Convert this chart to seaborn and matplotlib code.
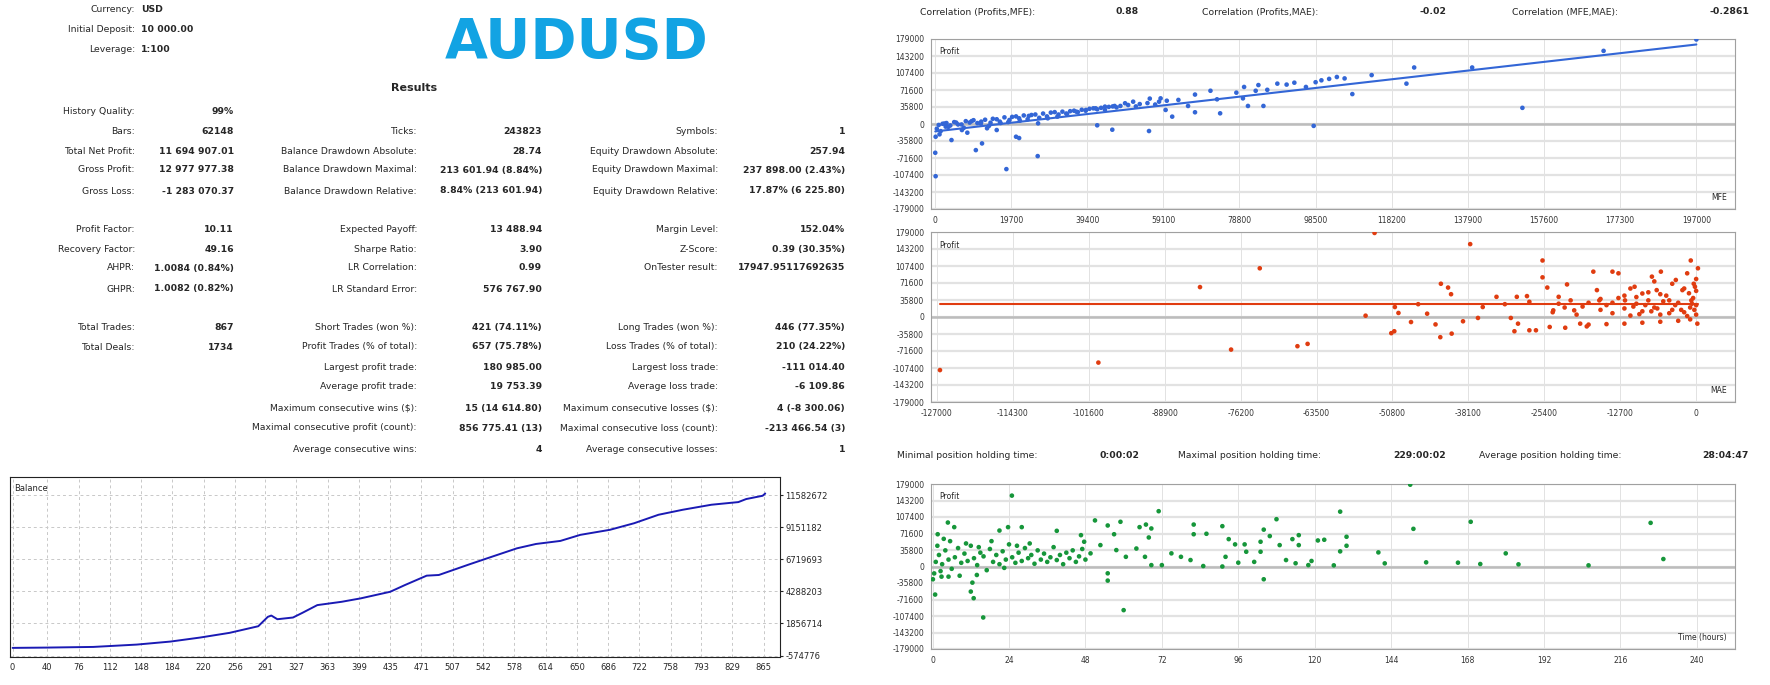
import numpy as np
import matplotlib
matplotlib.use("Agg")
import matplotlib.pyplot as plt
import seaborn as sns

# ---- report header / stats ----
header_rows = [("Currency:", "USD"), ("Initial Deposit:", "10 000.00"), ("Leverage:", "1:100")]

col1 = [("History Quality:", "99%", 111), ("Bars:", "62148", 131), ("Total Net Profit:", "11 694 907.01", 151),
        ("Gross Profit:", "12 977 977.38", 170), ("Gross Loss:", "-1 283 070.37", 191),
        ("Profit Factor:", "10.11", 230), ("Recovery Factor:", "49.16", 249),
        ("AHPR:", "1.0084 (0.84%)", 268), ("GHPR:", "1.0082 (0.82%)", 289),
        ("Total Trades:", "867", 327), ("Total Deals:", "1734", 347)]
col2 = [("Ticks:", "243823", 131), ("Balance Drawdown Absolute:", "28.74", 151),
        ("Balance Drawdown Maximal:", "213 601.94 (8.84%)", 170),
        ("Balance Drawdown Relative:", "8.84% (213 601.94)", 191),
        ("Expected Payoff:", "13 488.94", 230), ("Sharpe Ratio:", "3.90", 249),
        ("LR Correlation:", "0.99", 268), ("LR Standard Error:", "576 767.90", 289),
        ("Short Trades (won %):", "421 (74.11%)", 327), ("Profit Trades (% of total):", "657 (75.78%)", 347),
        ("Largest profit trade:", "180 985.00", 367), ("Average profit trade:", "19 753.39", 387),
        ("Maximum consecutive wins ($):", "15 (14 614.80)", 408),
        ("Maximal consecutive profit (count):", "856 775.41 (13)", 428),
        ("Average consecutive wins:", "4", 449)]
col3 = [("Symbols:", "1", 131), ("Equity Drawdown Absolute:", "257.94", 151),
        ("Equity Drawdown Maximal:", "237 898.00 (2.43%)", 170),
        ("Equity Drawdown Relative:", "17.87% (6 225.80)", 191),
        ("Margin Level:", "152.04%", 230), ("Z-Score:", "0.39 (30.35%)", 249),
        ("OnTester result:", "17947.95117692635", 268),
        ("Long Trades (won %):", "446 (77.35%)", 327), ("Loss Trades (% of total):", "210 (24.22%)", 347),
        ("Largest loss trade:", "-111 014.40", 367), ("Average loss trade:", "-6 109.86", 387),
        ("Maximum consecutive losses ($):", "4 (-8 300.06)", 408),
        ("Maximal consecutive loss (count):", "-213 466.54 (3)", 428),
        ("Average consecutive losses:", "1", 449)]
corr_row = [("Correlation (Profits,MFE):", "0.88"), ("Correlation (Profits,MAE):", "-0.02"),
            ("Correlation (MFE,MAE):", "-0.2861")]
hold_row = [("Minimal position holding time:", "0:00:02"), ("Maximal position holding time:", "229:00:02"),
            ("Average position holding time:", "28:04:47")]

# ---- balance curve (trade number, balance) ----
bal_trade = [0, 39, 93, 143, 182, 216, 250, 283, 294, 298, 305, 323, 334, 351, 379, 401, 435, 452, 477,
             491, 525, 547, 581, 603, 631, 654, 688, 716, 744, 772, 805, 836, 845, 864, 867]
bal_value = [10000, 33000, 83000, 260000, 490000, 793000, 1150000, 1650000, 2360000, 2460000, 2180000,
             2310000, 2670000, 3250000, 3500000, 3760000, 4260000, 4770000, 5480000, 5530000, 6310000,
             6800000, 7550000, 7880000, 8110000, 8570000, 8950000, 9450000, 10090000, 10470000, 10850000,
             11050000, 11280000, 11530000, 11700000]
bal_ticks = [0, 40, 76, 112, 148, 184, 220, 256, 291, 327, 363, 399, 435, 471, 507, 542, 578, 614, 650,
             686, 722, 758, 793, 829, 865]
bal_yticks = [-574776, 1856714, 4288203, 6719693, 9151182, 11582672]

# ---- MFE vs profit (thousands) ----
mfe_x = [197, 173, 139, 124, 113, 122, 108, 152, 98, 106, 104, 102, 100, 98.5, 96, 93, 91, 88.6, 86, 83.7,
         83, 80, 78, 79.7, 81, 85, 73.8, 73, 71.3, 67.3, 67.3, 65.5, 61.4, 59.7, 63, 58.4, 55.6, 55.4, 45.9,
         42, 51.3, 49.2, 46.5, 44, 41.6, 39.1, 36.6, 34.2, 31.7, 29.2, 26.7, 24.3, 21.8, 19.3, 16.8, 14.4,
         11.9, 6.9, 2, 21.8, 21, 12.2, 10.6, 8.4, 4.3, 1.2, 0.2, 0.1, 0.2, 18.5, 26.6, 16, 13.5, 7, 2.8,
         3, 5, 8, 10, 13, 15, 18, 20, 23, 25, 28, 30, 33, 35, 38, 40, 43, 45, 48, 50, 53, 55, 58, 60,
         4, 6, 9, 12, 14, 17, 19, 22, 24, 27, 29, 32, 34, 37, 39, 42, 44, 47, 52, 57,
         1, 2.5, 3.5, 5.5, 7.5, 9.5, 11, 16, 21, 26, 31, 36, 41, 46, 0.5, 1.5]
mfe_y = [178, 154, 119, 119, 103, 85, 63, 34, -4, 96, 99, 95, 92, 88, 78, 87, 83, 85, 72, 82,
         70, 78, 66, 54, 38, 38, 22.5, 52, 70, 62, 24.7, 38, 15.5, 29.6, 50.7, 54, 53.5, -14.8, -12,
         -2.8, 47, 43.7, 38, 36.6, 33, 29.6, 26, 21, 15.5, 12, 1.4, 17, 12, 8.5, 5, 2.8,
         1, -1, 0.5, -29.6, -26.8, -40.9, -55, -18.3, -33.8, -21.8, -26.8, -60.6, -110, -95, -67.6, -12.7, -9, -12.7, -5.6,
         2, 4, 6, 8, 9, 11, 14, 15, 18, 19, 22, 24, 26, 27, 30, 32, 34, 36, 38, 40, 42, 44, 47, 49,
         -3, -1, 3, 5, -4, 2, 4, 7, 10, 13, 16, 20, 22, 25, 28, 31, 30, 35, 37, 41,
         -2, 1, -6, 3, -8, 6, 2, 10, 16, 20, 25, 28, 33, 37, -10, -15]

# ---- MAE vs profit (thousands) ----
mae_x = [-53.8, -37.8, -73, -83, -25.7, -25.7, -0.9, 0.3, -126.5, -100, -77.8, -66.7, -65, -55.3, -51, -50.5,
         -50.4, -49.8, -47.7, -46.5, -45, -43.6, -42.8, -42.7, -41.5, -41, -40.9, -39, -36.5, -35.7, -33.4,
         -32, -31, -30.4, -30, -29.8, -28.3, -27.9, -27.9, -26.8, -24.9, -24.5, -23.9, -23, -21.9, -21.6,
         -20.4, -19.4, -18.3, -17.2, -16.6, -16.2, -14, -13, -11.9, -10.3, -9, -7.4, -6.6, -5.9, -4.5, -3.4,
         -2.3, -1.5, -0.7, -0.2, 0.2,
         -24, -22, -20, -18, -16, -15, -14, -13, -12, -11, -10, -9, -8, -7, -6, -5, -4, -3, -2, -1, -0.5,
         0, 0, 0, 0, -1, -3, -6, -9, -12, -15, -18, -2, -4, -6, -8, -10, -12, -14, -16, -19, -21, -23, -11, -7,
         -1.5, -2.5, -3.5, -4.5, -5.5, -6.5, -7.5, -8.5, -9.5, -10.5, -0.3, -0.8, -1.2, -0.4]
mae_y = [177, 153.5, 102.6, 63, 119, 83.5, 119, 102.6, -111.8, -96, -68.6, -61.5, -56.6, 2.8, -34, -30,
         21, 8.5, -10.6, 27, 7, -15.6, -42.5, 70, 62, 48, -35, -9, -2, 21, 42.5,
         27, -2, -30, 42.5, -14, 44, 32, -28, -28, 62, -21, 14, 42.5, -22.6, 68.6,
         14, -14, -19.8, 95.5, 56.6, 35, 95.5, 92, 35, 63.7, 49.5, 85, 56.6, 95.5, 35, 78,
         56.6, 92, 28, 63.7, -14,
         10, 20, 5, 30, 15, 25, 8, 40, 18, 3, 28, 12, 35, 20, 5, 45, 15, 30, 10, 20, 40,
         5, 55, 25, 80, -5, -8, -10, -12, -14, -15, -16, 60, 70, 48, 52, 42, 45, 30, 38, 22, 35, 28, 60, 75,
         2, 15, 25, 8, 33, 18, 12, 25, 6, 22, 15, 35, 50, 70]

# ---- holding time (hours) vs profit (thousands) ----
hold_h = [150, 24.9, 71, 128, 108, 169, 225.5, 151, 4.8, 6.8, 1.6, 23.7, 28, 21, 39, 51, 55, 59, 65, 67,
          68.7, 82, 82, 86, 91, 104, 105.9, 115, 115, 113, 121, 123, 130, 130, 128, 140, 142, 155, 165, 172,
          180, 184, 206, 229.5, 104, 60, 15.9, 0.8, 12.9, 12, 12.5, 13.9, 55, 55, 0.1, 2.8, 5,
          46.6, 47.6, 57, 67.9, 93, 95, 98, 98.5, 103, 103, 109, 111, 114, 119, 118, 126, 96, 101, 92, 91,
          85, 81, 78, 75, 72, 68.7, 66.7, 64, 60.7, 57.7, 52.7, 49.6,
          1, 2, 3, 4, 5, 6, 7, 8, 9, 10, 11, 12, 13, 14, 15, 16, 17, 18, 19, 20, 21, 22, 23, 24, 25, 26,
          27, 28, 29, 30, 31, 32, 33, 34, 35, 36, 37, 38, 39, 40, 41, 42, 43, 44, 45, 46, 47, 48,
          0.5, 1.5, 2.5, 3.5, 5.5, 8.5, 10.5, 14.5, 18.5, 22.5, 26.5, 30.5]
hold_y = [177.5, 153.8, 120, 119, 102.6, 97, 94.7, 81.7, 95.4, 85.4, 70, 85.4, 85.4, 78, 77.4, 100, 89, 97, 85.4, 91,
          82.5, 91, 70, 71, 87.5, 80, 66, 68, 46.4, 59.4, 56.5, 58, 64.5, 45, 32.8, 30.6, 6.8, 9, 8.3, 5.4,
          28.5, 4.7, 2.5, 16.2, -27.7, -94.7, -110.6, -60.9, -68.8, -54.4, -35, -18.4, -30.6, -14.8, -27.7, -22, -22,
          68, 53.7, 70, 63, 59.4, 48, 48, 32, 53.7, 32, 46.4, 14, 7, 12, 3, 2.5, 8.3, 10, 21, 0,
          1, 14, 21, 28.5, 3, 3, 21, 39, 21, 35.6, 46.4, 28.5,
          10, 25, 5, 35, 15, -5, 20, 40, 8, 28, 12, 45, 18, 3, 30, 22, -8, 38, 10, 25, 5, 33, 15, 48, 20, 8,
          30, 12, 40, 18, 25, 6, 35, 15, 28, 10, 20, 42, 14, 25, 5, 30, 18, 35, 10, 22, 38, 15,
          -15, 45, -10, 60, 55, -20, 50, 42, 55, -3, 45, 50]

W, H = 1770.0, 685.0  # layout grid in output pixels


def box(fig, l, t, r, b):
    return fig.add_axes([l / W, 1 - b / H, (r - l) / W, (b - t) / H])


def ftext(fig, x, y, s, **kw):
    fig.text(x / W, 1 - y / H, s, va="center", **kw)


sns.set_style("white")
plt.rcParams["font.family"] = ["DejaVu Sans"]
FS = 6.7

fig = plt.figure(figsize=(17.7, 6.85), dpi=100)

for i, (lab, val) in enumerate(header_rows):
    ftext(fig, 135, 9 + 20.5 * i, lab, ha="right", fontsize=FS)
    ftext(fig, 141, 9 + 20.5 * i, val, ha="left", fontsize=FS, weight="bold")
ftext(fig, 577, 43, "AUDUSD", ha="center", fontsize=40, weight="bold", color="#12a3e3")
ftext(fig, 414, 88, "Results", ha="center", fontsize=8, weight="bold")

for col, lx, vx in [(col1, 135, 234), (col2, 417, 542), (col3, 718, 845)]:
    for lab, val, y in col:
        ftext(fig, lx, y, lab, ha="right", fontsize=FS)
        ftext(fig, vx, y, val, ha="right", fontsize=FS, weight="bold")

for row, y, lxs in [(corr_row, 12, (920, 1202, 1512)), (hold_row, 456, (897, 1178, 1479))]:
    for (lab, val), lx, vx in zip(row, lxs, (1139, 1446, 1749)):
        ftext(fig, lx, y, lab, ha="left", fontsize=FS)
        ftext(fig, vx, y, val, ha="right", fontsize=FS, weight="bold")

# ---- balance ----
ax = box(fig, 10, 477, 780, 657)
sns.lineplot(x=bal_trade, y=bal_value, ax=ax, color="#1a1ab4", lw=1.4)
ax.set_xlim(-3, 884)
ax.set_ylim(-680000, 12950000)
ax.set_xticks(bal_ticks)
ax.set_xticklabels([str(t) for t in bal_ticks], fontsize=6)
ax.set_yticks(bal_yticks)
ax.set_yticklabels([str(t) for t in bal_yticks], fontsize=6)
ax.yaxis.tick_right()
ax.grid(True, ls=(0, (3, 3)), color="#c8c8c8", lw=0.7)
for s in ax.spines.values():
    s.set_color("#222222")
ax.tick_params(length=2, pad=2)
ax.text(0.005, 0.96, "Balance", transform=ax.transAxes, fontsize=6, va="top")


def scatter_panel(axp, x, y, color, xticks, xlim, corner, fit="ols"):
    yt = [-179000, -143200, -107400, -71600, -35800, 0, 35800, 71600, 107400, 143200, 179000]
    xs = np.array(x) * (1000 if corner != "Time (hours)" else 1)
    ys = np.array(y) * 1000
    sns.scatterplot(x=xs, y=ys, ax=axp, color=color, s=11, edgecolor="none", zorder=3)
    xx = np.array([min(xs), max(xs)])
    if fit == "ols":
        k, c = np.polyfit(xs, ys, 1)
        sns.lineplot(x=xx, y=k * xx + c, ax=axp, color=color, lw=1.5, zorder=4)
    elif fit == "mean":
        sns.lineplot(x=xx, y=[ys.mean()] * 2, ax=axp, color=color, lw=1.5, zorder=4)
    axp.set_ylim(-179000, 179000)
    axp.set_xlim(*xlim)
    axp.set_yticks(yt)
    axp.set_yticklabels([str(v) for v in yt], fontsize=5.5, color="#333333")
    axp.set_xticks(xticks)
    axp.set_xticklabels([str(v) for v in xticks], fontsize=5.5, color="#333333")
    axp.tick_params(length=3, pad=2, color="#999999")
    for v in xticks:
        axp.axvline(v, color="#dddddd", lw=0.6, zorder=0)
    for v in yt:
        axp.axhline(v, color="#e2e2e2", lw=1.6, zorder=0)
    axp.axhline(0, color="#bcbcbc", lw=1.8, zorder=1)
    for s in axp.spines.values():
        s.set_color("#a0a0a0")
    axp.text(0.01, 0.95, "Profit", transform=axp.transAxes, fontsize=5.5, va="top")
    axp.text(0.99, 0.04, corner, transform=axp.transAxes, fontsize=5.5, ha="right", va="bottom")


ax1 = box(fig, 931, 39, 1735, 209)
scatter_panel(ax1, mfe_x, mfe_y, "#3366d6",
              [0, 19700, 39400, 59100, 78800, 98500, 118200, 137900, 157600, 177300, 197000],
              (-1000, 207000), "MFE")
ax2 = box(fig, 931, 232, 1735, 402)
scatter_panel(ax2, mae_x, mae_y, "#e03c10",
              [-127000, -114300, -101600, -88900, -76200, -63500, -50800, -38100, -25400, -12700, 0],
              (-128000, 6500), "MAE", fit="mean")
ax3 = box(fig, 931, 484, 1735, 649)
scatter_panel(ax3, hold_h, hold_y, "#16963a", [0, 24, 48, 72, 96, 120, 144, 168, 192, 216, 240],
              (-0.5, 252), "Time (hours)", fit=None)

fig.savefig("out.png", dpi=100)
